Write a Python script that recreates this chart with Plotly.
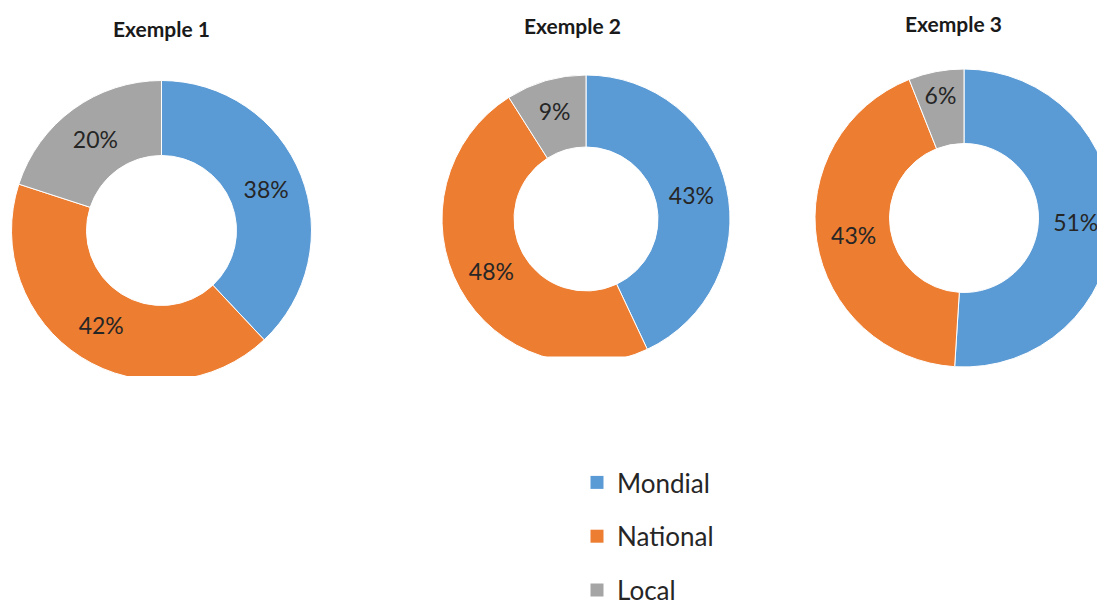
import plotly.graph_objects as go

categories = ["Mondial", "National", "Local"]
titles = ["Exemple 1", "Exemple 2", "Exemple 3"]
ex1 = [38, 42, 20]
ex2 = [43, 48, 9]
ex3 = [51, 43, 6]
colors = ["#5B9BD5", "#ED7D31", "#A5A5A5"]

W, H = 1105, 640
OFF = 8  # page body margin offset


def px(x, y):
    return (x - OFF) / W, 1 - (y - OFF) / H


def dom(cx, cy, r):
    x0, y1 = px(cx - r, cy - r)
    x1, y0 = px(cx + r, cy + r)
    return dict(x=[max(0, x0), min(1, x1)], y=[max(0, y0), min(1, y1)])


domains = [dom(161.5, 230.5, 150), dom(586, 219, 144), dom(964, 218, 149)]
series = [ex1, ex2, ex3]

fig = go.Figure()
for vals, d in zip(series, domains):
    fig.add_trace(go.Pie(
        labels=categories, values=vals, hole=0.5, sort=False,
        direction="clockwise", rotation=0, domain=d,
        marker=dict(colors=colors, line=dict(color="white", width=1)),
        texttemplate="%{percent:.0%}", textposition="inside",
        insidetextorientation="horizontal",
        insidetextfont=dict(family="Lato", size=23, color="#262626"),
        showlegend=False, hoverinfo="label+percent",
    ))

for name, c in zip(categories, colors):
    fig.add_trace(go.Scatter(
        x=[None], y=[None], mode="markers", name=name, legendgroup=name,
        marker=dict(symbol="square", size=13, color=c),
    ))

title_pos = [(161, 28), (572, 25), (953, 23)]
for t, (x, y) in zip(titles, title_pos):
    ax, ay = px(x, y)
    fig.add_annotation(text="<b>" + t + "</b>", x=ax, y=ay,
                       xref="paper", yref="paper", showarrow=False,
                       xanchor="center", yanchor="middle",
                       font=dict(family="Lato", size=21, color="#1a1a1a"))

# flat bottom cut of the first two rings, as in the source image
for (xa, xb, ya) in [(0, 320, 376), (430, 740, 356.5)]:
    x0, y0 = px(xa, ya)
    x1, y1 = px(xb, ya + 30)
    fig.add_shape(type="rect", xref="paper", yref="paper", x0=x0, x1=x1,
                  y0=y1, y1=y0, fillcolor="white", line=dict(width=0),
                  layer="above")

lx, ly = px(577, 459)
fig.update_layout(
    width=W, height=H, margin=dict(l=0, r=0, t=0, b=0),
    paper_bgcolor="white", plot_bgcolor="white",
    xaxis=dict(visible=False), yaxis=dict(visible=False),
    legend=dict(x=lx, y=ly, xanchor="left", yanchor="top",
                tracegroupgap=17, traceorder="grouped",
                font=dict(family="Lato", size=26, color="#262626"),
                bgcolor="rgba(0,0,0,0)"),
)

fig.write_html("out.html")
